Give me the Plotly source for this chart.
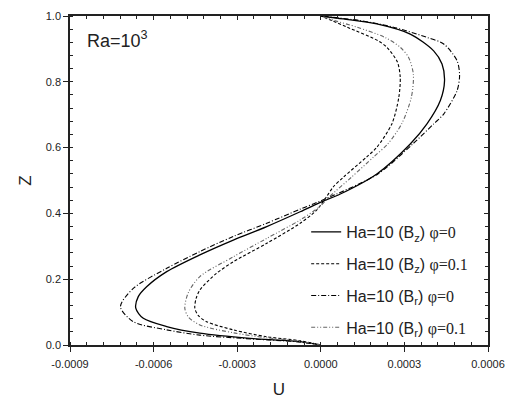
import plotly.graph_objects as go

# Ha=10 (Bz) phi=0  -- (z, U x1e-4)
z_bz_0 = [0, 0.010, 0.020, 0.036, 0.056, 0.081, 0.112, 0.147, 0.177, 0.223, 0.274, 0.319,
          0.360, 0.405, 0.436, 0.459, 0.52, 0.611, 0.672, 0.743, 0.803, 0.854, 0.894,
          0.945, 0.976, 0.991, 1.0]
u_bz_0 = [0, -0.74, -2.54, -4.34, -5.53, -6.37, -6.64, -6.55, -6.25, -5.53, -4.34, -3.14,
          -1.94, -0.74, 0.05, 0.7, 2.01, 3.21, 3.81, 4.29, 4.44, 4.35, 4.05,
          3.21, 2.01, 0.81, 0]

# Ha=10 (Bz) phi=0.1
z_bz_01 = [0, 0.013, 0.025, 0.046, 0.071, 0.09, 0.112, 0.14, 0.167, 0.218, 0.253, 0.309,
           0.37, 0.41, 0.45, 0.481, 0.51, 0.572, 0.601, 0.672, 0.753, 0.814, 0.86,
           0.905, 0.925, 0.966, 0.986, 1.0]
u_bz_01 = [0, -0.74, -1.94, -3.14, -4.1, -4.4, -4.52, -4.48, -4.34, -3.74, -3.14, -1.94,
           -0.74, -0.15, 0.2, 0.45, 0.81, 1.65, 2.01, 2.55, 2.8, 2.85, 2.75,
           2.37, 2.05, 0.95, 0.4, 0]

# Ha=10 (Br) phi=0
z_br_0 = [0, 0.010, 0.020, 0.030, 0.046, 0.071, 0.1165, 0.172, 0.233, 0.284, 0.33, 0.37,
          0.413, 0.44, 0.52, 0.611, 0.672, 0.702, 0.773, 0.819, 0.864, 0.915, 0.935,
          0.966, 0.986, 1.0]
u_br_0 = [0, -0.9, -2.8, -4.34, -5.53, -6.73, -7.19, -6.73, -5.53, -4.34, -3.14, -1.94,
          -0.74, 0.05, 2.05, 3.3, 4.05, 4.41, 4.89, 4.98, 4.89, 4.41, 3.81,
          2.61, 1.41, 0]

# Ha=10 (Br) phi=0.1
z_br_01 = [0, 0.012, 0.022, 0.037, 0.061, 0.085, 0.112, 0.16, 0.208, 0.268, 0.324, 0.38,
           0.42, 0.45, 0.51, 0.572, 0.611, 0.672, 0.753, 0.824, 0.874, 0.905, 0.935,
           0.966, 0.986, 1.0]
u_br_01 = [0, -0.8, -1.94, -3.14, -4.34, -4.75, -4.88, -4.75, -4.34, -3.14, -1.94, -0.74,
           -0.05, 0.3, 1.1, 1.9, 2.4, 2.9, 3.25, 3.32, 3.15, 2.85, 2.3,
           1.3, 0.5, 0]

x_tickvals = [-0.0009, -0.0006, -0.0003, 0.0, 0.0003, 0.0006]
x_ticktext = ["-0.0009", "-0.0006", "-0.0003", "0.0000", "0.0003", "0.0006"]
y_tickvals = [0.0, 0.2, 0.4, 0.6, 0.8, 1.0]
y_ticktext = ["0.0", "0.2", "0.4", "0.6", "0.8", "1.0"]

SERIF = "font-family:'Liberation Serif'"
names = [
    f"Ha=10 (B<sub>z</sub>) <span style=\"{SERIF}\">φ=0</span>",
    f"Ha=10 (B<sub>z</sub>) <span style=\"{SERIF}\">φ=0.1</span>",
    f"Ha=10 (B<sub>r</sub>) <span style=\"{SERIF}\">φ=0</span>",
    f"Ha=10 (B<sub>r</sub>) <span style=\"{SERIF}\">φ=0.1</span>",
]
series = [(z_bz_0, u_bz_0), (z_bz_01, u_bz_01), (z_br_0, u_br_0), (z_br_01, u_br_01)]
styles = [
    dict(color="black", width=1.3, dash="solid"),
    dict(color="black", width=1.1, dash="3px,2px"),
    dict(color="black", width=1.1, dash="5px,2px,1px,2px"),
    dict(color="#666666", width=1.1, dash="4px,2px,1px,2px,1px,2px"),
]

fig = go.Figure()
for i, (nm, (zz, uu), st) in enumerate(zip(names, series, styles)):
    fig.add_trace(go.Scatter(x=[v * 1e-4 for v in uu], y=zz, mode="lines", name=nm,
                             legendgroup=f"g{i}",
                             line=dict(shape="spline", smoothing=0.8, **st)))

# invisible trace for mirror axes
fig.add_trace(go.Scatter(x=[0], y=[0], xaxis="x2", yaxis="y2", mode="markers",
                         marker=dict(opacity=0), showlegend=False, hoverinfo="skip"))

axis_common = dict(showgrid=False, zeroline=False, linecolor="#222", linewidth=1.5,
                   tickcolor="#222", tickwidth=1.3, automargin=False)

fig.update_layout(
    width=505, height=399,
    margin=dict(l=70, r=17, t=16, b=54),
    paper_bgcolor="white", plot_bgcolor="white",
    font=dict(family="Liberation Sans", color="#222", size=11),
    showlegend=True,
    legend=dict(x=0.565, y=0.0, xanchor="left", yanchor="bottom",
                bgcolor="rgba(0,0,0,0)", font=dict(size=16, family="Liberation Sans"),
                tracegroupgap=8),
    xaxis=dict(range=[-0.0009, 0.0006], tickvals=x_tickvals, ticktext=x_ticktext,
               ticks="outside", ticklen=5, tickfont=dict(size=11), ticklabelstandoff=3,
               minor=dict(dtick=0.00006, tick0=0, ticks="inside", ticklen=3,
                          tickcolor="#222", tickwidth=1),
               title=dict(text="U", font=dict(size=17), standoff=16),
               **axis_common),
    yaxis=dict(range=[0, 1.0], tickvals=y_tickvals, ticktext=y_ticktext,
               ticks="outside", ticklen=5, tickfont=dict(size=11),
               minor=dict(dtick=0.04, tick0=0, ticks="inside", ticklen=3,
                          tickcolor="#222", tickwidth=1),
               title=dict(text="Z", font=dict(size=17), standoff=10),
               **axis_common),
    xaxis2=dict(range=[-0.0009, 0.0006], overlaying="x", side="top", anchor="y",
                tickvals=x_tickvals, ticks="inside", ticklen=4, showticklabels=False,
                minor=dict(dtick=0.00006, tick0=0, ticks="inside", ticklen=3,
                           tickcolor="#222", tickwidth=1),
                **axis_common),
    yaxis2=dict(range=[0, 1.0], overlaying="y", side="right", anchor="x",
                tickvals=y_tickvals, ticks="inside", ticklen=4, showticklabels=False,
                minor=dict(dtick=0.04, tick0=0, ticks="inside", ticklen=3,
                           tickcolor="#222", tickwidth=1),
                **axis_common),
    annotations=[dict(text="Ra=10<sup>3</sup>", x=0.035, y=0.93, xref="paper", yref="paper",
                      xanchor="left", yanchor="middle", showarrow=False,
                      font=dict(size=18, family="Liberation Sans"))],
)

fig.write_html("out.html")
